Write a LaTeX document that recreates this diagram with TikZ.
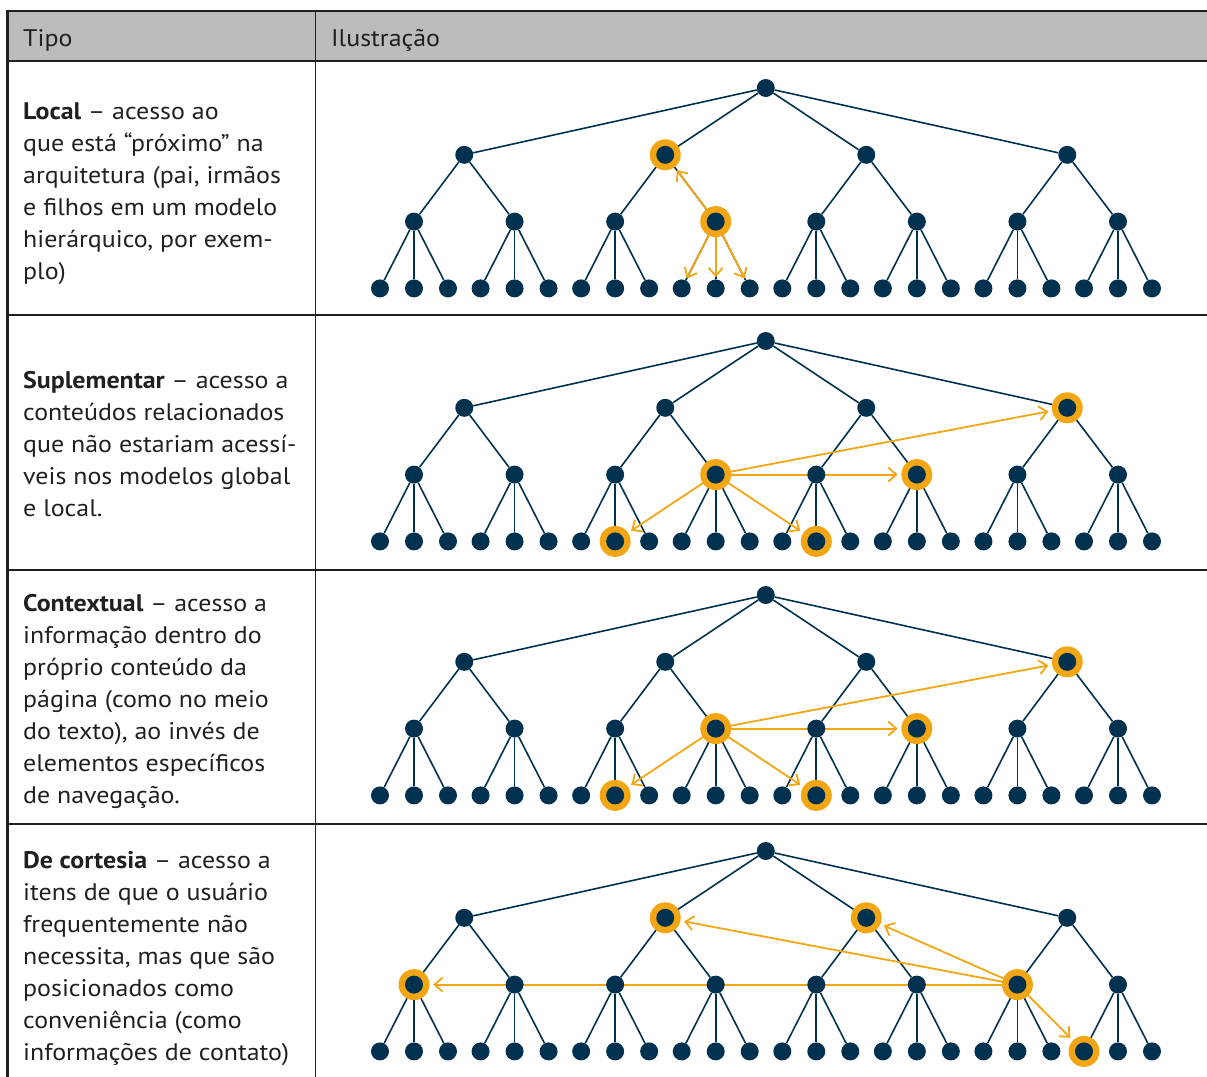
\documentclass[tikz,border=0pt]{standalone}
\usepackage{fontspec}
\setmainfont{PT Sans}[FakeStretch=1.08]
\usetikzlibrary{arrows.meta}

\definecolor{navy}{HTML}{00324F}
\definecolor{amber}{HTML}{F2A614}
\definecolor{ink}{HTML}{231F20}
\definecolor{headgray}{HTML}{BDBBBC}

\pgfdeclarelayer{edges}
\pgfdeclarelayer{links}
\pgfdeclarelayer{rings}
\pgfsetlayers{edges,links,rings,main}

\tikzset{
  dot/.style={circle,fill=navy,inner sep=0pt,minimum size=18bp},
  halo/.style={circle,fill=amber,inner sep=0pt,minimum size=31bp},
  branch/.style={navy,line width=1.6bp},
  link/.style={amber,line width=1.8bp,-{Straight Barb[length=8bp,width=14bp]}},
  tohalo/.style={shorten >=10bp},
  toleaf/.style={shorten >=2bp},
  txt/.style={anchor=base west,inner sep=0pt,text=ink,
              font=\fontsize{24bp}{32bp}\selectfont},
  rule/.style={ink,line width=2bp},
}

% three-level hierarchy: root, 4 sections, 8 subsections, 24 pages
\newcommand\hiertree[2]{%
  \node[dot] (#1-r) at (765.75,#2) {};
  \foreach \i in {0,...,3}{%
    \node[dot] (#1-a\i) at ({464.25+201*\i},{#2+66.8}) {};
    \begin{pgfonlayer}{edges}\draw[branch] (#1-r) -- (#1-a\i);\end{pgfonlayer}
  }
  \foreach \j in {0,...,7}{%
    \pgfmathtruncatemacro\pa{floor(\j/2)}
    \node[dot] (#1-b\j) at ({414+100.57*\j},{#2+133.6}) {};
    \begin{pgfonlayer}{edges}\draw[branch] (#1-a\pa) -- (#1-b\j);\end{pgfonlayer}
    \foreach \k in {0,1,2}{%
      \node[dot] (#1-c\j\k) at ({380+100.57*\j+34*\k},{#2+200.4}) {};
      \begin{pgfonlayer}{edges}\draw[branch] (#1-b\j) -- (#1-c\j\k);\end{pgfonlayer}
    }
  }
}
\newcommand\ringit[1]{%
  \begin{pgfonlayer}{rings}\node[halo] (#1-h) at (#1) {};\end{pgfonlayer}}

% one text row: name, first baseline, list of lines
\newcommand\textrow[3]{%
  \foreach \t [count=\n from 0] in {#3}{%
    \node[txt] (#1-\n) at (23,{#2+32*\n}) {\t};
  }
}

\begin{document}
\begin{tikzpicture}[x=1bp,y=-1bp]
\useasboundingbox (0,0) rectangle (1207,1077);

% table frame
\fill[headgray] (7,11) rectangle (1207,61);
\draw[rule,line width=2.5bp] (7,11) -- (1207,11);
\draw[rule] (7,61) -- (1207,61);
\foreach \y in {315,570,824}{\draw[rule] (7,\y) -- (1207,\y);}
\draw[ink,line width=2.6bp] (7.5,9.8) -- (7.5,1077);
\draw[ink,line width=1bp] (315,11) -- (315,1077);

% header
\node[txt] (hdr-tipo) at (23,46) {Tipo};
\node[txt] (hdr-ilus) at (331,46) {Ilustração};

% descriptions
\textrow{local}{119}{{\textbf{Local} – acesso ao},{que está “próximo” na},{arquitetura (pai, irmãos},{e filhos em um modelo},{hierárquico, por exem-},{plo)}}
\textrow{supl}{388.5}{{\textbf{Suplementar} – acesso a},{conteúdos relacionados},{que não estariam acessí-},{veis nos modelos global},{e local.}}
\textrow{ctx}{611.5}{{\textbf{Contextual} – acesso a},{informação dentro do},{próprio conteúdo da},{página (como no meio},{do texto), ao invés de},{elementos específicos},{de navegação.}}
\textrow{cort}{868}{{\textbf{De cortesia} – acesso a},{itens de que o usuário},{frequentemente não},{necessita, mas que são},{posicionados como},{conveniência (como},{informações de contato)}}

% trees
\hiertree{p1}{88}
\hiertree{p2}{341}
\hiertree{p3}{595}
\hiertree{p4}{851}

% local navigation
\ringit{p1-a1}\ringit{p1-b3}
\begin{pgfonlayer}{links}
  \draw[link,tohalo] (p1-b3) -- (p1-a1);
  \foreach \k in {0,1,2}{\draw[link,toleaf] (p1-b3) -- (p1-c3\k);}
\end{pgfonlayer}

% supplementary and contextual navigation
\foreach \p in {p2,p3}{%
  \ringit{\p-b3}\ringit{\p-a3}\ringit{\p-b5}\ringit{\p-c21}\ringit{\p-c41}
  \begin{pgfonlayer}{links}
    \draw[link,tohalo] (\p-b3) -- (\p-a3);
    \draw[link,tohalo] (\p-b3) -- (\p-b5);
    \draw[link,tohalo] (\p-b3) -- (\p-c21);
    \draw[link,tohalo] (\p-b3) -- (\p-c41);
  \end{pgfonlayer}
}

% courtesy navigation
\ringit{p4-b6}\ringit{p4-a1}\ringit{p4-a2}\ringit{p4-b0}\ringit{p4-c70}
\begin{pgfonlayer}{links}
  \draw[link,tohalo] (p4-b6) -- (p4-a1);
  \draw[link,tohalo] (p4-b6) -- (p4-a2);
  \draw[link,tohalo] (p4-b6) -- (p4-b0);
  \draw[link,tohalo] (p4-b6) -- (p4-c70);
\end{pgfonlayer}
\end{tikzpicture}
\end{document}
